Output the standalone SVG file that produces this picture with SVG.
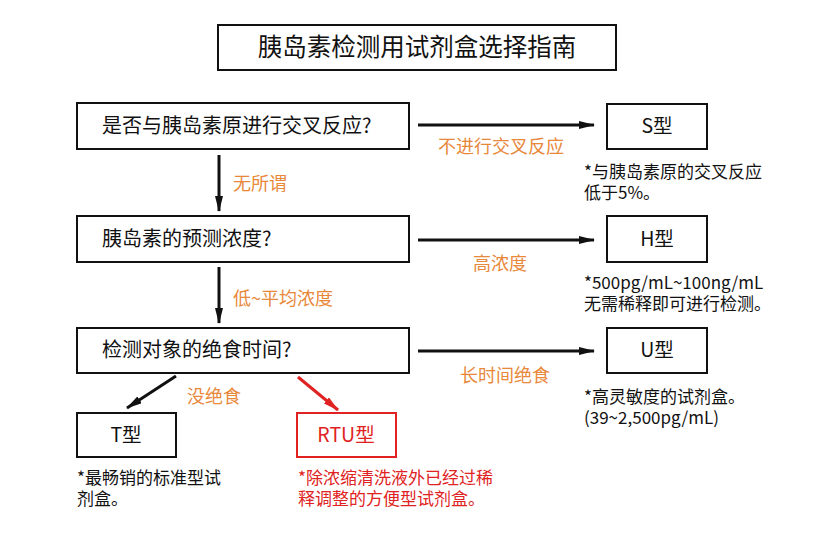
<svg xmlns="http://www.w3.org/2000/svg" width="831" height="537" viewBox="0 0 831 537">
<style>
text{font-family:"Noto Sans CJK SC","Noto Sans",sans-serif;fill:#111}
.box{fill:#fff;stroke:#111;stroke-width:2}
.rbox{fill:#fff;stroke:#e02222;stroke-width:2}
.q{font-size:20px}
.t{font-size:19.5px;text-anchor:middle}
.lbl{font-size:18px;fill:#e8883a}
.note{font-size:17px}
.rnote{font-size:17px;fill:#e02222}
.ar{stroke:#111;stroke-width:3;fill:none;marker-end:url(#ah)}
.rar{stroke:#e02222;stroke-width:3;fill:none;marker-end:url(#rah)}
</style>
<defs>
<marker id="ah" viewBox="0 0 16 8" refX="15" refY="4" markerWidth="16" markerHeight="8" markerUnits="userSpaceOnUse" orient="auto"><path d="M0,0 L16,4 L0,8 Z" fill="#111"/></marker>
<marker id="rah" viewBox="0 0 16 8" refX="15" refY="4" markerWidth="16" markerHeight="8" markerUnits="userSpaceOnUse" orient="auto"><path d="M0,0 L16,4 L0,8 Z" fill="#e02222"/></marker>
</defs>
<rect width="831" height="537" fill="#fff"/>
<g id="title"><rect class="box" x="218" y="25" width="398" height="45"/><text x="417" y="56" font-size="24.5" text-anchor="middle">胰岛素检测用试剂盒选择指南</text></g>
<g id="connectors">
<line class="ar" x1="418" y1="125" x2="594" y2="125"/>
<line class="ar" x1="418" y1="240" x2="594" y2="240"/>
<line class="ar" x1="418" y1="351" x2="594" y2="351"/>
<line class="ar" x1="219" y1="155" x2="219" y2="211"/>
<line class="ar" x1="219" y1="267" x2="219" y2="323"/>
<line class="ar" x1="176" y1="376" x2="127" y2="408"/>
<line class="rar" x1="298" y1="377" x2="338" y2="410"/>
<text class="lbl" x="438" y="153">不进行交叉反应</text>
<text class="lbl" x="500" y="270" text-anchor="middle">高浓度</text>
<text class="lbl" x="460" y="382">长时间绝食</text>
<text class="lbl" x="233" y="190">无所谓</text>
<text class="lbl" x="233" y="305">低~平均浓度</text>
<text class="lbl" x="187" y="403">没绝食</text>
</g>
<g id="q1"><rect class="box" x="77" y="103" width="332" height="46"/><text class="q" x="102" y="133">是否与胰岛素原进行交叉反应?</text></g>
<g id="q2"><rect class="box" x="77" y="216" width="332" height="46"/><text class="q" x="102" y="246">胰岛素的预测浓度?</text></g>
<g id="q3"><rect class="box" x="77" y="328" width="332" height="45"/><text class="q" x="102" y="357">检测对象的绝食时间?</text></g>
<g id="s"><rect class="box" x="607" y="104" width="100" height="45"/><text class="t" x="657" y="133">S型</text>
<text class="note" x="584" y="178">*与胰岛素原的交叉反应</text><text class="note" x="584" y="199">低于5%。</text></g>
<g id="h"><rect class="box" x="607" y="216" width="100" height="46"/><text class="t" x="657" y="246">H型</text>
<text class="note" x="584" y="289">*500pg/mL~100ng/mL</text><text class="note" x="584" y="310">无需稀释即可进行检测。</text></g>
<g id="u"><rect class="box" x="607" y="328" width="100" height="45"/><text class="t" x="657" y="357">U型</text>
<text class="note" x="584" y="403">*高灵敏度的试剂盒。</text><text class="note" x="584" y="424">(39~2,500pg/mL)</text></g>
<g id="t"><rect class="box" x="77" y="413" width="99" height="44"/><text class="t" x="126" y="442">T型</text>
<text class="note" x="77" y="484">*最畅销的标准型试</text><text class="note" x="77" y="505">剂盒。</text></g>
<g id="rtu"><rect class="rbox" x="297" y="413" width="99" height="44"/><text class="t" x="346" y="442" style="fill:#e02222">RTU型</text>
<text class="rnote" x="298" y="484">*除浓缩清洗液外已经过稀</text><text class="rnote" x="298" y="505">释调整的方便型试剂盒。</text></g>
</svg>
